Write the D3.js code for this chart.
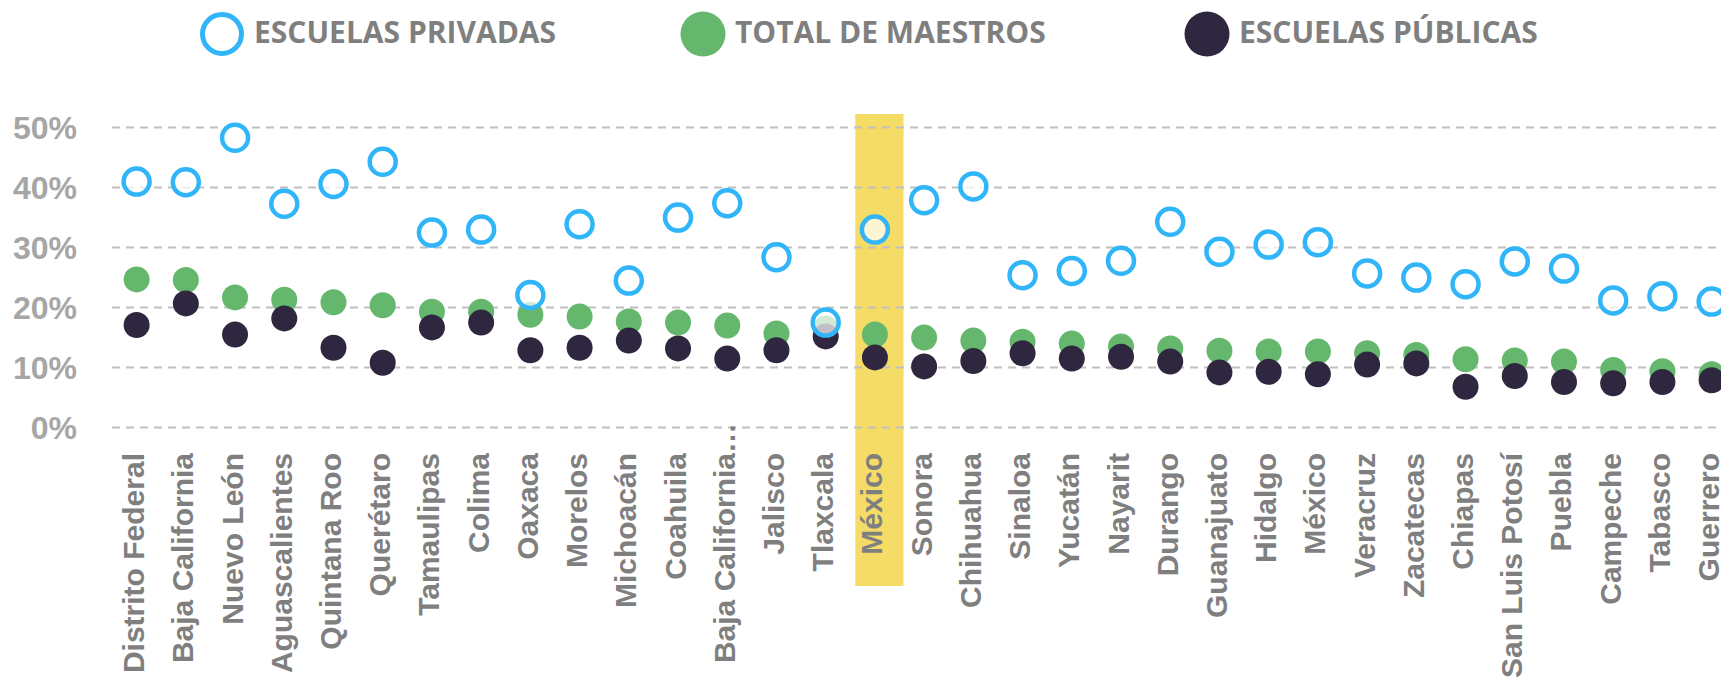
<!DOCTYPE html>
<html lang="es">
<head>
<meta charset="UTF-8">
<script src="https://d3js.org/d3.v7.min.js"></script>
<style>
  body { margin: 0; background: #fff; }
  svg { display: block; font-family: "Open Sans", sans-serif; font-weight: 700; }
</style>
</head>
<body>
<div id="chart"></div>
<script>
// estados, en el orden del gráfico
var estados = ["Distrito Federal", "Baja California", "Nuevo León", "Aguascalientes", "Quintana Roo",
  "Querétaro", "Tamaulipas", "Colima", "Oaxaca", "Morelos", "Michoacán", "Coahuila",
  "Baja California…", "Jalisco", "Tlaxcala", "México", "Sonora", "Chihuahua", "Sinaloa",
  "Yucatán", "Nayarit", "Durango", "Guanajuato", "Hidalgo", "México", "Veracruz",
  "Zacatecas", "Chiapas", "San Luis Potosí", "Puebla", "Campeche", "Tabasco", "Guerrero"];

// porcentajes
var privadas = [40.9, 40.8, 48.2, 37.2, 40.5, 44.2, 32.4, 32.9, 22.0, 33.8, 24.4, 34.9,
  37.3, 28.3, 17.4, 32.9, 37.8, 40.1, 25.3, 26.0, 27.7, 34.2, 29.2, 30.4, 30.8, 25.6,
  24.9, 23.8, 27.6, 26.4, 21.1, 21.8, 20.9];
var total = [24.6, 24.5, 21.6, 21.2, 20.8, 20.3, 19.2, 19.2, 18.7, 18.4, 17.6, 17.4,
  16.9, 15.6, 16.4, 15.4, 14.9, 14.4, 14.2, 13.9, 13.4, 13.1, 12.7, 12.6, 12.6, 12.3,
  12.0, 11.3, 11.1, 10.9, 9.5, 9.3, 8.8];
var publicas = [17.0, 20.6, 15.4, 18.1, 13.2, 10.7, 16.6, 17.4, 12.8, 13.2, 14.4, 13.1,
  11.4, 12.8, 15.1, 11.6, 10.1, 11.0, 12.3, 11.4, 11.7, 10.9, 9.1, 9.2, 8.8, 10.4,
  10.6, 6.7, 8.5, 7.5, 7.3, 7.5, 7.8];

var ticksY = [0, 10, 20, 30, 40, 50];
var destacado = 15; // México (nacional)

var leyenda = [
  { nombre: "ESCUELAS PRIVADAS", tipo: "anillo" },
  { nombre: "TOTAL DE MAESTROS", tipo: "verde" },
  { nombre: "ESCUELAS PÚBLICAS", tipo: "oscuro" }
];

var W = 1721, H = 687;
var azul = "#30b5f8", verde = "#64b76c", oscuro = "#2f2740";

var svg = d3.select("#chart").append("svg")
  .attr("width", W)
  .attr("height", H);

// Escalas
var x = d3.scaleBand().domain(d3.range(estados.length)).range([112, 112 + estados.length * 49.22]);
var y = d3.scaleLinear().domain([0, 50]).range([427, 127]);
var cx = function (i) { return x(i) + x.bandwidth() / 2; };

// Banda amarilla
svg.append("rect")
  .attr("x", x(destacado) + 5)
  .attr("y", 114)
  .attr("width", x.bandwidth() - 1)
  .attr("height", 472)
  .attr("fill", "#f4dc66");

// Rejilla
var grid = svg.append("g")
  .attr("transform", "translate(112,0)")
  .call(d3.axisLeft(y).tickValues(ticksY).tickSize(-(W - 112)).tickFormat(""));
grid.select(".domain").remove();
grid.selectAll("line")
  .attr("stroke", "#c0c0c0")
  .attr("stroke-width", 2)
  .attr("stroke-dasharray", "8,6");

// Eje Y
var ejeY = svg.append("g")
  .attr("transform", "translate(77,0)")
  .call(d3.axisLeft(y).tickValues(ticksY).tickSize(0).tickPadding(0).tickFormat(function (d) { return d + "%"; }));
ejeY.select(".domain").remove();
ejeY.selectAll("text")
  .attr("fill", "#a6a6a6")
  .style("font-size", "32px")
  .attr("dy", "0.36em");

// Eje X (etiquetas giradas)
var ejeX = svg.append("g")
  .attr("transform", "translate(0,453)")
  .call(d3.axisBottom(x).tickSize(0).tickFormat(function (i) { return estados[i].replace("…", ""); }));
ejeX.select(".domain").remove();
ejeX.selectAll("text")
  .attr("x", 0)
  .attr("y", 0)
  .attr("dy", "7.5px")
  .attr("transform", "rotate(-90)")
  .attr("text-anchor", "end")
  .attr("fill", "#7f7f7f")
  .style("font-size", "30px");
// puntos suspensivos de la etiqueta recortada
ejeX.selectAll(".tick")
  .filter(function (i) { return estados[i].slice(-1) === "…"; })
  .append("text")
  .attr("transform", "rotate(-90)")
  .attr("dy", "7.5px")
  .attr("text-anchor", "start")
  .attr("fill", "#7f7f7f")
  .style("font-size", "30px")
  .text("…");

// Puntos
svg.append("g").selectAll("circle")
  .data(total)
  .join("circle")
  .attr("cx", function (d, i) { return cx(i); })
  .attr("cy", function (d) { return y(d); })
  .attr("r", 13)
  .attr("fill", verde);

svg.append("g").selectAll("circle")
  .data(publicas)
  .join("circle")
  .attr("cx", function (d, i) { return cx(i); })
  .attr("cy", function (d) { return y(d); })
  .attr("r", 13)
  .attr("fill", oscuro);

svg.append("g").selectAll("circle")
  .data(privadas)
  .join("circle")
  .attr("cx", function (d, i) { return cx(i); })
  .attr("cy", function (d) { return y(d); })
  .attr("r", 13)
  .attr("fill", "#fff")
  .attr("fill-opacity", 0.7)
  .attr("stroke", azul)
  .attr("stroke-width", 4.5);

// Leyenda
var posLeyenda = [222, 703, 1207];
var items = svg.append("g").selectAll("g")
  .data(leyenda)
  .join("g")
  .attr("transform", function (d, i) { return "translate(" + posLeyenda[i] + ",34)"; });

items.append("circle")
  .attr("r", function (d) { return d.tipo === "anillo" ? 19.5 : 22.5; })
  .attr("fill", function (d) { return d.tipo === "anillo" ? "#fff" : (d.tipo === "verde" ? verde : oscuro); })
  .attr("stroke", function (d) { return d.tipo === "anillo" ? azul : "none"; })
  .attr("stroke-width", 5);

items.append("text")
  .attr("x", 32)
  .attr("y", 9)
  .attr("fill", "#7f7f7f")
  .style("font-size", "30px")
  .text(function (d) { return d.nombre; });
</script>
</body>
</html>
